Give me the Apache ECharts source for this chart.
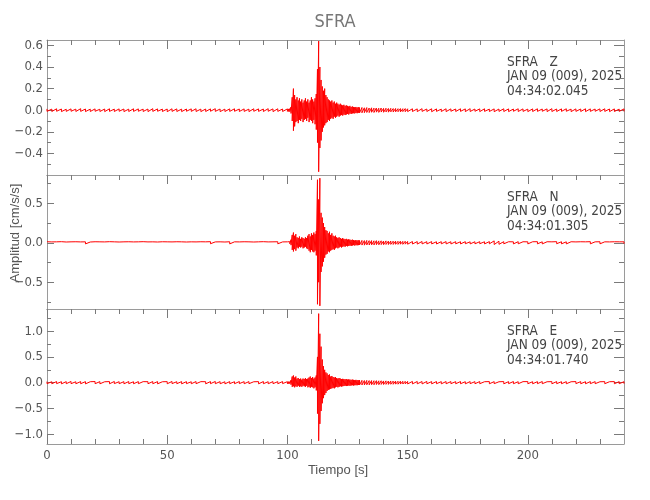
<!DOCTYPE html>
<html><head><meta charset="utf-8">
<script src="https://cdn.jsdelivr.net/npm/echarts@6/dist/echarts.min.js"></script>
<style>html,body{margin:0;padding:0;background:#fff}#c{width:650px;height:500px}</style>
</head><body><div id="c"></div>
<script>
// sample times [s]
const timeS = [
0,2,4,6,8,10,12,14,16,18,20,22,24,26,28,30,32,34,36,38,40,42,44,46,48,50,52,54,56,58,60,62,64,66,68,70,72,74,76,78,80,82,84,86,88,90,92,94,96,98,100,
100.5,101,101.5,102,102.5,103,103.5,104,104.5,105,105.5,106,106.5,107,107.5,108,108.5,109,109.5,110,110.5,111,111.5,112,112.5,113,113.5,114,114.5,115,115.5,116,116.5,117,117.5,118,118.5,119,119.5,120,120.5,121,121.5,122,122.5,123,123.5,124,124.5,125,125.5,126,126.5,127,127.5,128,128.5,129,129.5,130,
131,132,133,134,135,136,137,138,139,140,141,142,143,144,145,146,147,148,149,150,
152,154,156,158,160,162,164,166,168,170,172,174,176,178,180,182,184,186,188,190,192,194,196,198,200,202,204,206,208,210,212,214,216,218,220,222,224,226,228,230,232,234,236,238,240];

// Z component: upper / lower envelope [cm/s/s]
const zHi = [
0.012,0.010,0.013,0.011,0.009,0.012,0.010,0.014,0.011,0.010,0.012,0.009,0.011,0.013,0.010,0.012,0.011,0.010,0.013,0.012,0.010,0.011,0.014,0.012,0.010,0.011,0.013,0.012,0.010,0.011,0.012,0.013,0.010,0.011,0.012,0.014,0.011,0.010,0.012,0.013,0.011,0.012,0.010,0.013,0.012,0.011,0.014,0.012,0.013,0.011,0.012,
0.012,0.015,0.03,0.12,0.20,0.14,0.10,0.12,0.09,0.11,0.08,0.10,0.07,0.09,0.11,0.08,0.10,0.07,0.09,0.12,0.10,0.08,0.11,0.15,0.38,0.64,0.40,0.28,0.22,0.18,0.20,0.14,0.12,0.10,0.09,0.08,0.09,0.07,0.08,0.06,0.07,0.06,0.05,0.06,0.05,0.045,0.05,0.04,0.045,0.04,0.035,0.04,0.03,0.035,0.03,0.028,0.03,0.025,0.028,0.025,
0.025,0.022,0.024,0.020,0.022,0.019,0.020,0.018,0.020,0.017,0.018,0.016,0.017,0.015,0.016,0.014,0.015,0.014,0.015,0.013,
0.013,0.012,0.014,0.011,0.013,0.012,0.010,0.013,0.012,0.011,0.013,0.012,0.014,0.011,0.012,0.013,0.010,0.012,0.011,0.013,0.012,0.011,0.013,0.012,0.010,0.012,0.013,0.011,0.012,0.014,0.011,0.012,0.013,0.010,0.012,0.011,0.013,0.012,0.011,0.012,0.013,0.011,0.012,0.010,0.012];
const zLo = [
-0.011,-0.012,-0.010,-0.013,-0.011,-0.010,-0.012,-0.011,-0.013,-0.012,-0.010,-0.012,-0.013,-0.011,-0.012,-0.010,-0.013,-0.012,-0.011,-0.010,-0.012,-0.013,-0.011,-0.010,-0.012,-0.014,-0.011,-0.012,-0.013,-0.010,-0.011,-0.012,-0.013,-0.012,-0.010,-0.011,-0.013,-0.012,-0.011,-0.010,-0.012,-0.011,-0.013,-0.010,-0.011,-0.012,-0.010,-0.013,-0.011,-0.012,-0.011,
-0.012,-0.014,-0.03,-0.10,-0.19,-0.15,-0.11,-0.10,-0.12,-0.09,-0.10,-0.08,-0.11,-0.09,-0.08,-0.10,-0.07,-0.11,-0.09,-0.10,-0.12,-0.09,-0.13,-0.18,-0.30,-0.57,-0.35,-0.28,-0.20,-0.16,-0.14,-0.12,-0.11,-0.09,-0.10,-0.08,-0.07,-0.08,-0.06,-0.07,-0.06,-0.05,-0.06,-0.05,-0.045,-0.05,-0.04,-0.045,-0.04,-0.035,-0.04,-0.03,-0.035,-0.03,-0.028,-0.03,-0.025,-0.028,-0.024,-0.025,
-0.024,-0.023,-0.021,-0.022,-0.019,-0.021,-0.018,-0.020,-0.017,-0.019,-0.016,-0.018,-0.015,-0.017,-0.015,-0.014,-0.016,-0.013,-0.014,-0.013,
-0.012,-0.013,-0.011,-0.012,-0.014,-0.011,-0.012,-0.013,-0.010,-0.012,-0.011,-0.013,-0.012,-0.010,-0.013,-0.011,-0.012,-0.014,-0.011,-0.012,-0.013,-0.010,-0.012,-0.011,-0.013,-0.012,-0.011,-0.010,-0.013,-0.012,-0.012,-0.011,-0.010,-0.013,-0.011,-0.012,-0.013,-0.011,-0.010,-0.012,-0.011,-0.013,-0.012,-0.011,-0.012];

// N component
const nHi = [
0.013,0.011,0.012,0.014,0.010,0.012,0.013,0.011,0.012,0.010,0.013,0.012,0.011,0.014,0.012,0.010,0.012,0.013,0.011,0.012,0.014,0.011,0.012,0.010,0.013,0.012,0.011,0.013,0.012,0.010,0.012,0.011,0.013,0.012,0.014,0.011,0.012,0.010,0.013,0.012,0.011,0.013,0.012,0.010,0.012,0.014,0.011,0.012,0.013,0.011,0.012,
0.012,0.014,0.04,0.10,0.13,0.09,0.11,0.07,0.06,0.08,0.05,0.07,0.06,0.05,0.07,0.06,0.09,0.11,0.08,0.12,0.10,0.13,0.11,0.15,0.80,0.55,0.82,0.38,0.32,0.25,0.20,0.16,0.15,0.12,0.14,0.10,0.12,0.09,0.08,0.09,0.07,0.06,0.07,0.06,0.05,0.06,0.05,0.045,0.05,0.04,0.045,0.04,0.035,0.04,0.035,0.03,0.035,0.03,0.032,0.03,
0.030,0.028,0.030,0.027,0.028,0.025,0.027,0.024,0.025,0.022,0.024,0.021,0.022,0.020,0.021,0.019,0.020,0.018,0.019,0.017,
0.016,0.015,0.016,0.014,0.015,0.013,0.014,0.015,0.013,0.014,0.013,0.014,0.012,0.013,0.014,0.013,0.015,0.024,0.020,0.014,0.013,0.012,0.014,0.013,0.012,0.013,0.014,0.012,0.013,0.012,0.014,0.013,0.012,0.013,0.011,0.013,0.012,0.014,0.012,0.013,0.012,0.011,0.013,0.012,0.012];
const nLo = [
-0.012,-0.011,-0.013,-0.010,-0.012,-0.013,-0.011,-0.012,-0.014,-0.011,-0.010,-0.012,-0.013,-0.011,-0.012,-0.014,-0.010,-0.011,-0.012,-0.013,-0.011,-0.012,-0.010,-0.013,-0.012,-0.011,-0.014,-0.012,-0.010,-0.011,-0.013,-0.012,-0.011,-0.010,-0.012,-0.013,-0.011,-0.012,-0.014,-0.011,-0.012,-0.010,-0.011,-0.013,-0.012,-0.011,-0.012,-0.010,-0.013,-0.012,-0.011,
-0.012,-0.013,-0.03,-0.09,-0.11,-0.08,-0.10,-0.06,-0.07,-0.05,-0.06,-0.05,-0.07,-0.06,-0.05,-0.07,-0.08,-0.10,-0.12,-0.09,-0.11,-0.12,-0.10,-0.16,-0.78,-0.50,-0.80,-0.37,-0.30,-0.24,-0.19,-0.15,-0.14,-0.11,-0.12,-0.10,-0.09,-0.08,-0.09,-0.07,-0.06,-0.07,-0.06,-0.05,-0.06,-0.05,-0.045,-0.05,-0.04,-0.045,-0.04,-0.035,-0.04,-0.035,-0.03,-0.035,-0.03,-0.032,-0.03,-0.028,
-0.029,-0.030,-0.027,-0.028,-0.026,-0.027,-0.024,-0.025,-0.023,-0.024,-0.021,-0.022,-0.020,-0.021,-0.019,-0.020,-0.018,-0.019,-0.017,-0.018,
-0.015,-0.016,-0.014,-0.015,-0.014,-0.015,-0.013,-0.014,-0.015,-0.013,-0.014,-0.012,-0.014,-0.013,-0.012,-0.014,-0.013,-0.022,-0.019,-0.013,-0.012,-0.014,-0.013,-0.012,-0.014,-0.012,-0.013,-0.014,-0.012,-0.013,-0.012,-0.013,-0.014,-0.012,-0.013,-0.012,-0.011,-0.013,-0.012,-0.013,-0.011,-0.013,-0.012,-0.011,-0.012];

// E component
const eHi = [
0.021,0.018,0.022,0.019,0.020,0.023,0.018,0.021,0.020,0.019,0.022,0.020,0.018,0.021,0.023,0.019,0.020,0.022,0.018,0.021,0.020,0.019,0.022,0.021,0.018,0.020,0.023,0.019,0.021,0.020,0.018,0.022,0.020,0.019,0.021,0.023,0.020,0.018,0.021,0.019,0.022,0.020,0.021,0.018,0.020,0.022,0.019,0.021,0.020,0.022,0.020,
0.02,0.02,0.05,0.12,0.14,0.10,0.12,0.08,0.09,0.07,0.08,0.06,0.08,0.07,0.09,0.07,0.08,0.10,0.12,0.09,0.11,0.08,0.10,0.14,0.50,1.34,0.95,0.70,0.45,0.32,0.25,0.20,0.18,0.15,0.16,0.12,0.13,0.11,0.10,0.11,0.09,0.08,0.09,0.08,0.07,0.075,0.07,0.065,0.07,0.06,0.065,0.06,0.055,0.06,0.055,0.05,0.055,0.05,0.048,0.05,
0.045,0.042,0.044,0.040,0.041,0.038,0.039,0.036,0.037,0.034,0.035,0.032,0.033,0.030,0.031,0.028,0.029,0.027,0.026,0.025,
0.024,0.023,0.022,0.024,0.021,0.022,0.020,0.022,0.021,0.020,0.022,0.019,0.021,0.020,0.022,0.019,0.021,0.020,0.018,0.021,0.020,0.022,0.019,0.020,0.021,0.019,0.020,0.022,0.018,0.020,0.021,0.019,0.020,0.018,0.021,0.020,0.019,0.021,0.020,0.018,0.020,0.019,0.021,0.020,0.019];
const eLo = [
-0.019,-0.021,-0.018,-0.022,-0.020,-0.019,-0.021,-0.020,-0.023,-0.018,-0.020,-0.022,-0.019,-0.021,-0.018,-0.020,-0.022,-0.019,-0.021,-0.020,-0.018,-0.021,-0.020,-0.022,-0.019,-0.021,-0.018,-0.020,-0.022,-0.019,-0.021,-0.020,-0.018,-0.022,-0.019,-0.020,-0.021,-0.023,-0.019,-0.020,-0.018,-0.021,-0.020,-0.019,-0.022,-0.020,-0.021,-0.019,-0.020,-0.018,-0.020,
-0.02,-0.02,-0.04,-0.08,-0.07,-0.09,-0.07,-0.08,-0.06,-0.08,-0.07,-0.08,-0.06,-0.07,-0.08,-0.06,-0.09,-0.08,-0.10,-0.08,-0.09,-0.11,-0.09,-0.15,-0.60,-1.13,-0.80,-0.55,-0.40,-0.30,-0.24,-0.20,-0.16,-0.14,-0.13,-0.12,-0.11,-0.10,-0.11,-0.09,-0.08,-0.09,-0.08,-0.07,-0.075,-0.07,-0.065,-0.06,-0.065,-0.06,-0.055,-0.06,-0.055,-0.05,-0.055,-0.05,-0.048,-0.05,-0.045,-0.045,
-0.044,-0.045,-0.041,-0.042,-0.039,-0.040,-0.036,-0.038,-0.034,-0.035,-0.032,-0.033,-0.030,-0.031,-0.028,-0.029,-0.027,-0.026,-0.025,-0.024,
-0.023,-0.022,-0.024,-0.021,-0.022,-0.020,-0.022,-0.021,-0.019,-0.021,-0.020,-0.022,-0.019,-0.021,-0.020,-0.018,-0.021,-0.019,-0.020,-0.022,-0.019,-0.020,-0.021,-0.018,-0.020,-0.021,-0.019,-0.020,-0.018,-0.021,-0.019,-0.020,-0.021,-0.019,-0.018,-0.020,-0.021,-0.019,-0.020,-0.018,-0.020,-0.019,-0.021,-0.020,-0.019];

const xMajorTicks = [0,50,100,150,200];
const xMinorTicks = [10,20,30,40,60,70,80,90,110,120,130,140,160,170,180,190,210,220,230];
const yRanges = [[-0.60,0.65],[-0.84,0.86],[-1.19,1.43]];
const yMajorTicks = [[-0.4,-0.2,0,0.2,0.4,0.6],[-0.5,0,0.5],[-1,-0.5,0,0.5,1]];
const yMinorTicks = [[-0.5,-0.3,-0.1,0.1,0.3,0.5],[-0.75,-0.25,0.25,0.75],[-0.75,-0.25,0.25,0.75,1.25]];
const stationText = [
  ["SFRA   Z","JAN 09 (009), 2025","04:34:02.045"],
  ["SFRA   N","JAN 09 (009), 2025","04:34:01.305"],
  ["SFRA   E","JAN 09 (009), 2025","04:34:01.740"]];
const titleText = 'SFRA', xName = 'Tiempo [s]', yName = 'Amplitud [cm/s/s]';
const traces = [[zHi,zLo],[nHi,nLo],[eHi,eLo]];

const FONT = '"Liberation Sans Narrow","DejaVu Sans Condensed","Liberation Sans",sans-serif';
const FONT2 = '"Liberation Sans","DejaVu Sans",sans-serif';
const LINE = '#9a9a9a', TICK = '#7a7a7a', TXT = '#555';
const panels = [{top:40,height:135},{top:175,height:134},{top:309,height:135}];
const fmt = v => { const s = Math.abs(v) < 1e-9 ? '0.0' : v.toFixed(1); return s.replace('-', '\u2212'); };

const grid = [], xAxis = [], yAxis = [], series = [], graphic = [];
// 0..2 : major grids, 3..5 : minor-tick grids (same rects)
for (let g = 0; g < 6; g++) {
  const p = g % 3, minor = g >= 3;
  grid.push({left:47, right:26, top:panels[p].top, height:panels[p].height, containLabel:false, outerBoundsMode:'none'});
  const xt = minor ? xMinorTicks : xMajorTicks;
  const xl = minor ? 5 : 9;
  xAxis.push({type:'value', gridIndex:g, position:'bottom', min:0, max:240,
    axisLine:{show:!minor, onZero:false, lineStyle:{color:LINE, width:1}},
    axisTick:{show:(p===2), inside:true, length:xl, customValues:xt, lineStyle:{color:TICK}},
    axisLabel:{show:(p===2 && !minor), customValues:xMajorTicks, margin:5, color:TXT, fontSize:13, fontFamily:FONT},
    splitLine:{show:false}});
  xAxis.push({type:'value', gridIndex:g, position:'top', min:0, max:240,
    axisLine:{show:!minor, onZero:false, lineStyle:{color:LINE, width:1}},
    axisTick:{show:true, inside:true, length:xl, customValues:xt, lineStyle:{color:TICK}},
    axisLabel:{show:false}, splitLine:{show:false}});
  const yt = minor ? yMinorTicks[p] : yMajorTicks[p];
  yAxis.push({type:'value', gridIndex:g, position:'left', min:yRanges[p][0], max:yRanges[p][1],
    axisLine:{show:!minor, onZero:false, lineStyle:{color:LINE, width:1}},
    axisTick:{show:true, inside:true, length:minor?4:7, customValues:yt, lineStyle:{color:TICK}},
    axisLabel:{show:!minor, customValues:yMajorTicks[p], formatter:fmt, margin:4, color:TXT, fontSize:13, fontFamily:FONT},
    splitLine:{show:false}});
  yAxis.push({type:'value', gridIndex:g, position:'right', min:yRanges[p][0], max:yRanges[p][1],
    axisLine:{show:!minor, onZero:false, lineStyle:{color:LINE, width:1}},
    axisTick:{show:true, inside:true, length:minor?5:10, customValues:yt, lineStyle:{color:TICK}},
    axisLabel:{show:false}, splitLine:{show:false}});
}

for (let p = 0; p < 3; p++) {
  const [hi, lo] = traces[p];
  const pts = [];
  for (let i = 0; i < timeS.length; i++) { pts.push([timeS[i], hi[i]]); pts.push([timeS[i], lo[i]]); }
  series.push({type:'line', xAxisIndex:2*p, yAxisIndex:2*p, data:pts, showSymbol:false, symbol:'none',
    lineStyle:{color:'#ff0000', width:1}, animation:false, clip:true, silent:true});
  graphic.push({type:'text', x:507, y:panels[p].top + 15, silent:true,
    style:{text:stationText[p].join('\n'), fill:'#444', font:'13.5px ' + FONT, lineHeight:14.5,
      align:'left', verticalAlign:'top'}});
}
graphic.push({type:'text', x:335, y:22, silent:true,
  style:{text:titleText, fill:'#777', font:'18px ' + FONT, align:'center', verticalAlign:'middle'}});
graphic.push({type:'text', x:338, y:470, silent:true,
  style:{text:xName, fill:TXT, font:'13px ' + FONT2, align:'center', verticalAlign:'middle'}});
graphic.push({type:'text', x:15, y:233, rotation:Math.PI/2, silent:true,
  style:{text:yName, fill:TXT, font:'13px ' + FONT2, align:'center', verticalAlign:'middle'}});

const chart = echarts.init(document.getElementById('c'), null, {renderer:'canvas'});
chart.setOption({animation:false, backgroundColor:'#fff', grid, xAxis, yAxis, series, graphic});
</script></body></html>
